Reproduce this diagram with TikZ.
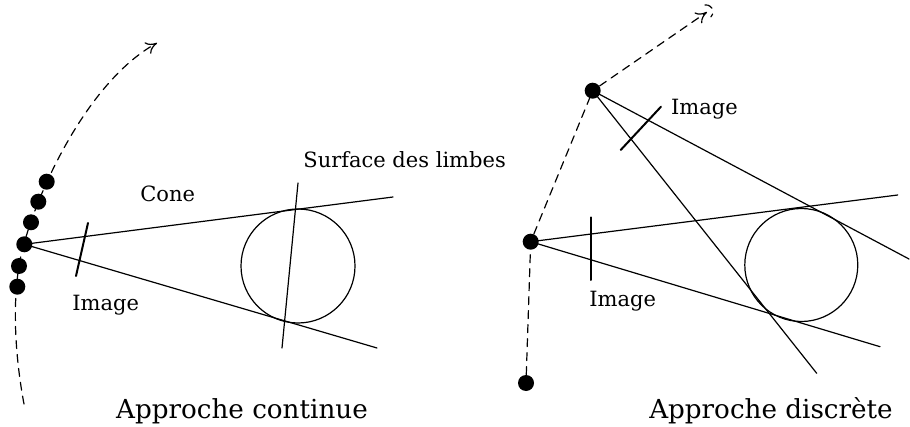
\documentclass[tikz,border=0pt]{standalone}
\usepackage{fontspec}
\setmainfont{DejaVu Serif}
\usetikzlibrary{arrows.meta}

\begin{document}
\begin{tikzpicture}[x=0.5pt,y=-0.5pt,line cap=round,line join=round,>={To[length=5.5pt,width=6.5pt]},
  every node/.style={inner sep=0pt},
  obsdot/.style={circle,fill,minimum size=8pt},
  traj/.style={dash pattern=on 4pt off 3pt,line width=0.6pt},
  ray/.style={line width=0.6pt},
  plan/.style={line width=1pt},
  lbl/.style={anchor=base west,font=\fontsize{10.5}{12}\selectfont},
  titre/.style={anchor=base,font=\fontsize{13.1}{15}\selectfont}]
  \useasboundingbox (0,0) rectangle (910,427);
  % approche continue
  \draw[traj,->] (24,404) .. controls (12,340) and (13,280) .. (24,244)
    .. controls (40,185) and (90,80) .. (157,43);
  \node[obsdot] (c1) at (17.3,286.7) {};
  \node[obsdot] (c2) at (19,266) {};
  \node[obsdot] (obs) at (24.3,244.3) {};
  \node[obsdot] (c4) at (31,222.3) {};
  \node[obsdot] (c5) at (38.3,201.7) {};
  \node[obsdot] (c6) at (46.7,181.7) {};
  \coordinate (hautG) at (393,197);
  \coordinate (basG) at (377,348);
  \draw[ray] (obs.center) -- (hautG);
  \draw[ray] (obs.center) -- (basG);
  \node[circle,draw,line width=0.6pt,minimum size=57pt] (limbeG) at (298,266) {};
  \coordinate (surfH) at (298,183);
  \coordinate (surfB) at (282,348);
  \draw[ray] (surfH) -- (surfB);
  \coordinate (imgGa) at (88,223);
  \coordinate (imgGb) at (76,276);
  \draw[plan] (imgGa) -- (imgGb);
  \node[lbl] (cone) at (140,202) {Cone};
  \node[lbl] (surf) at (303,168) {Surface des limbes};
  \node[lbl] (imgG) at (72,310) {Image};
  \node[titre] (titreG) at (242,418) {Approche continue};
  % approche discrete
  \node[obsdot] (v1) at (526,383) {};
  \node[obsdot] (v2) at (530.7,241.7) {};
  \node[obsdot] (v3) at (592.7,90.7) {};
  \coordinate (fin) at (707,12);
  \draw[traj] (v1) -- (v2) -- (v3);
  \draw[traj,->] (v3) -- (fin);
  \draw[traj] (705,5) arc[start angle=-98,end angle=45,radius=7];
  \coordinate (hautD) at (897.7,195);
  \coordinate (basD) at (880,346.7);
  \draw[ray] (v2.center) -- (hautD);
  \draw[ray] (v2.center) -- (basD);
  \coordinate (hautE) at (909,259);
  \coordinate (basE) at (816.7,373.3);
  \draw[ray] (v3.center) -- (hautE);
  \draw[ray] (v3.center) -- (basE);
  \node[circle,draw,line width=0.6pt,minimum size=56.5pt] (limbeD) at (801.3,265) {};
  \coordinate (imgDa) at (591,217.3);
  \coordinate (imgDb) at (591,280);
  \draw[plan] (imgDa) -- (imgDb);
  \coordinate (imgEa) at (661,106.7);
  \coordinate (imgEb) at (620.7,150);
  \draw[plan] (imgEa) -- (imgEb);
  \node[lbl] (imgD) at (589,306.7) {Image};
  \node[lbl] (imgE) at (670.7,115) {Image};
  \node[titre] (titreD) at (771,418) {Approche discrète};
\end{tikzpicture}
\end{document}
